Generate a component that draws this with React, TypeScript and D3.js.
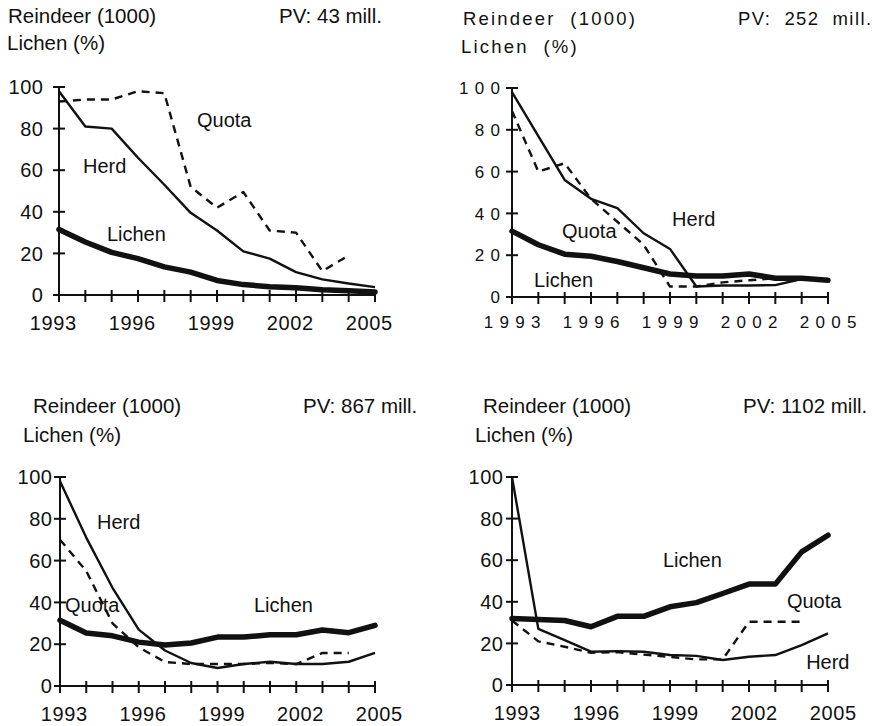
import React from 'react';
import * as d3 from 'd3';

// years on the x axis and the labelled ticks
const years = [1993, 1994, 1995, 1996, 1997, 1998, 1999, 2000, 2001, 2002, 2003, 2004, 2005];
const xTickLabels = [1993, 1996, 1999, 2002, 2005];
const yTickValues = [0, 20, 40, 60, 80, 100];

const pvLabels = ['PV: 43 mill.', 'PV:  252  mill.', 'PV: 867 mill.', 'PV: 1102 mill.'];

// panel 1: PV 43 mill.
const herd1 = [98, 81, 80, 66, 53, 39.5, 31, 21, 17.5, 11, 7.5, 5.5, 3.8];
const quota1 = [93, 94, 94, 98, 97, 52, 42, 49.5, 31, 30, 11.5, 19];
const lichen1 = [31.5, 25.5, 20.5, 17.5, 13.5, 11, 7, 5, 4, 3.5, 2.5, 2, 1.5];

// panel 2: PV 252 mill.
const herd2 = [98, 77, 56, 47, 42.5, 30.5, 23, 5, 5.5, 5.5, 5.7, 8.6, 8];
const quota2 = [89, 60, 64, 47, 36, 25, 5, 5, 7, 8, 9, 9, 8];
const lichen2 = [31.5, 25, 20.5, 19.5, 17, 14, 11, 10, 10, 11, 9, 9, 8];

// panel 3: PV 867 mill.
const herd3 = [98, 71, 47, 27, 17, 11, 8.6, 10.5, 11.6, 10.5, 10.5, 11.6, 15.8];
const quota3 = [70, 55, 30, 18.5, 11.5, 10.5, 10.5, 10.5, 11, 10.5, 15.8, 15.8];
const lichen3 = [31.5, 25.4, 24, 21, 19.6, 20.6, 23.4, 23.4, 24.5, 24.5, 26.8, 25.5, 29];

// panel 4: PV 1102 mill.
const herd4 = [100, 27, 21.6, 16, 16.3, 16, 14.4, 14, 12, 13.6, 14.4, 19.2, 24.8];
const quota4 = [31, 21, 18.4, 15.5, 15.8, 14.6, 13.5, 12.3, 12.3, 30.4, 30.4, 30.4];
const lichen4 = [32, 31.5, 31, 28, 33, 33, 37.6, 39.6, 44, 48.5, 48.5, 64, 72];

// series label anchors in data units [year, value]
const labelPos = [
  { herd: [1993.91, 58.7], quota: [1998.24, 80.8], lichen: [1994.82, 26] },
  { herd: [1999.08, 34], quota: [1994.9, 28.2], lichen: [1993.84, 4.8] },
  { herd: [1994.41, 75.1], quota: [1993.19, 35.4], lichen: [2000.39, 35.4] },
  { herd: [2004.17, 7.7], quota: [2003.44, 37], lichen: [1998.73, 56.7] },
];

const seriesByPanel = [
  { herd: herd1, quota: quota1, lichen: lichen1 },
  { herd: herd2, quota: quota2, lichen: lichen2 },
  { herd: herd3, quota: quota3, lichen: lichen3 },
  { herd: herd4, quota: quota4, lichen: lichen4 },
];

const layouts = [
  { left: 59, right: 375, top: 87, bottom: 295, titleX: 8, titleY: 23, subX: 7, subY: 50, pvX: 279,
    yLabelRight: 43, xLabelDx: -6, xLabelY: 330, titleSize: 20.5, titleLs: 0, tickSize: 20, tickLs: 0.6 },
  { left: 512, right: 828, top: 88, bottom: 297, titleX: 463, titleY: 25, subX: 461, subY: 53, pvX: 738,
    yLabelRight: 500, xLabelDx: 0, xLabelY: 328, titleSize: 18.5, titleLs: 2.2, tickSize: 17, tickLs: 6.3 },
  { left: 60, right: 375, top: 477, bottom: 686, titleX: 33, titleY: 413, subX: 23, subY: 442, pvX: 303,
    yLabelRight: 52, xLabelDx: 4, xLabelY: 721, titleSize: 20.5, titleLs: 0, tickSize: 20, tickLs: 0.6 },
  { left: 512, right: 828, top: 477, bottom: 685, titleX: 483, titleY: 413, subX: 475, subY: 442, pvX: 743,
    yLabelRight: 503, xLabelDx: 5, xLabelY: 720, titleSize: 20.5, titleLs: 0, tickSize: 20, tickLs: 0.6 },
];

const ink = '#111';
const font = '"Liberation Sans", Arial, Helvetica, sans-serif';

const Panel = ({ idx }: { idx: number }) => {
  const lay = layouts[idx];
  const s = seriesByPanel[idx];
  const lp = labelPos[idx];
  const x = d3.scaleLinear().domain([1993, 2005]).range([lay.left, lay.right]);
  const y = d3.scaleLinear().domain([0, 100]).range([lay.bottom, lay.top]);
  const line = d3.line<number>().x((_, i) => x(years[i])).y(d => y(d));
  const ls = lay.tickLs;

  return (
    <g fontFamily={font} fill={ink}>
      <text x={lay.titleX} y={lay.titleY} fontSize={lay.titleSize} letterSpacing={lay.titleLs}
        style={{ whiteSpace: 'pre' }}>{idx === 1 ? 'Reindeer  (1000)' : 'Reindeer (1000)'}</text>
      <text x={lay.subX} y={lay.subY} fontSize={lay.titleSize} letterSpacing={lay.titleLs}
        style={{ whiteSpace: 'pre' }}>{idx === 1 ? 'Lichen  (%)' : 'Lichen (%)'}</text>
      <text x={lay.pvX} y={lay.titleY} fontSize={lay.titleSize} letterSpacing={idx === 1 ? 1.4 : 0}
        style={{ whiteSpace: 'pre' }}>{pvLabels[idx]}</text>

      {/* axes */}
      <line x1={x(1993)} x2={x(1993)} y1={y(100)} y2={y(0)} stroke={ink} strokeWidth={2} />
      <line x1={x(1993)} x2={x(2005)} y1={y(0)} y2={y(0)} stroke={ink} strokeWidth={2} />
      {yTickValues.map(v => (
        <g key={'y' + v}>
          <line x1={x(1993) - 6} x2={x(1993) + 6} y1={y(v)} y2={y(v)} stroke={ink} strokeWidth={2} />
          <text x={lay.yLabelRight + ls} y={y(v)} dy="0.36em" textAnchor="end"
            fontSize={lay.tickSize} letterSpacing={ls}>{v}</text>
        </g>
      ))}
      {years.map(yr => (
        <line key={'x' + yr} x1={x(yr)} x2={x(yr)} y1={y(0) - 5} y2={y(0) + 7} stroke={ink} strokeWidth={2} />
      ))}
      {xTickLabels.map(yr => (
        <text key={'xl' + yr} x={x(yr) + lay.xLabelDx + ls / 2} y={lay.xLabelY} textAnchor="middle"
          fontSize={lay.tickSize} letterSpacing={ls}>{yr}</text>
      ))}

      {/* series */}
      <path d={line(s.lichen) || ''} fill="none" stroke={ink} strokeWidth={5.5} strokeLinejoin="round" strokeLinecap="round" />
      <path d={line(s.herd) || ''} fill="none" stroke={ink} strokeWidth={2.4} strokeLinejoin="round" />
      <path d={line(s.quota) || ''} fill="none" stroke={ink} strokeWidth={2.4} strokeDasharray="8,6" strokeLinejoin="round" />

      <text x={x(lp.herd[0])} y={y(lp.herd[1])} fontSize={20}>Herd</text>
      <text x={x(lp.quota[0])} y={y(lp.quota[1])} fontSize={20}>Quota</text>
      <text x={x(lp.lichen[0])} y={y(lp.lichen[1])} fontSize={20}>Lichen</text>
    </g>
  );
};

export default function App() {
  return (
    <svg width={875} height={726} style={{ position: 'absolute', left: 0, top: 0, background: '#fff' }}>
      <rect width={875} height={726} fill="#fff" />
      {[0, 1, 2, 3].map(i => <Panel key={i} idx={i} />)}
    </svg>
  );
}
